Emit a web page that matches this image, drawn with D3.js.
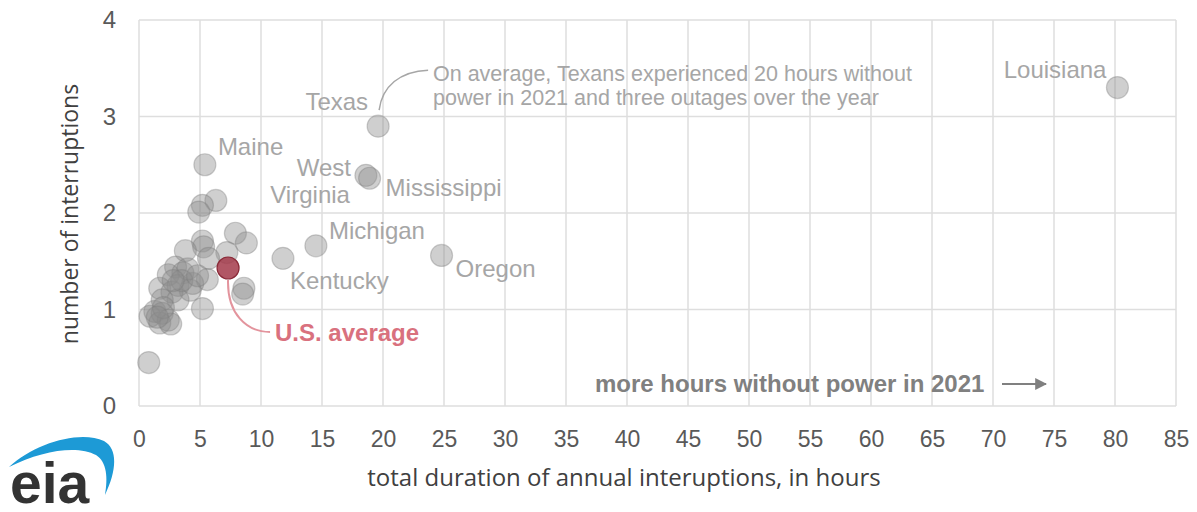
<!DOCTYPE html>
<html>
<head>
<meta charset="utf-8">
<script src="https://d3js.org/d3.v7.min.js"></script>
<style>
  body { margin: 0; background: #fff; }
  svg { display: block; }
</style>
</head>
<body>
<div id="chart"></div>
<script>
// labeled states
var labeledStates = ["Louisiana", "Texas", "West Virginia", "Mississippi", "Michigan", "Kentucky", "Oregon", "Maine"];
var labeledHours = [80.2, 19.6, 18.6, 18.9, 14.5, 11.8, 24.8, 5.4];
var labeledInterruptions = [3.30, 2.90, 2.39, 2.36, 1.66, 1.53, 1.56, 2.50];

// the rest of the states (unlabeled)
var otherHours = [6.3, 5.2, 4.9, 7.9, 8.8, 5.2, 5.3, 7.2, 5.7, 3.8, 8.6, 8.5, 5.2, 5.6, 0.8,
                  3.0, 2.4, 3.6, 4.4, 1.7, 3.2, 4.2, 2.7, 3.2, 1.9, 1.3, 0.9, 1.9, 2.4, 1.7,
                  2.6, 2.0, 4.0, 3.5, 2.8, 4.8, 1.5];
var otherInterruptions = [2.13, 2.08, 2.01, 1.79, 1.69, 1.71, 1.65, 1.59, 1.53, 1.61, 1.22, 1.16, 1.01, 1.31, 0.45,
                          1.44, 1.36, 1.38, 1.27, 1.22, 1.25, 1.20, 1.18, 1.10, 1.10, 0.98, 0.93, 0.96, 0.89, 0.86,
                          0.85, 1.02, 1.42, 1.30, 1.30, 1.35, 0.92];

var usAverage = { name: "U.S. average", hours: 7.3, interruptions: 1.43 };

var xTicks = d3.range(0, 86, 5);
var yTicks = [0, 1, 2, 3, 4];

var W = 1197, H = 512;
var margin = {top: 20, right: 21, bottom: 106, left: 139};

var svg = d3.select("#chart").append("svg")
    .attr("width", W)
    .attr("height", H);

var x = d3.scaleLinear().domain([0, 85]).range([margin.left, W - margin.right]);
var y = d3.scaleLinear().domain([0, 4]).range([H - margin.bottom, margin.top]);

var labelFont = "'Liberation Sans', Arial, sans-serif";
var titleFont = "'Open Sans', 'Noto Sans', sans-serif";

// grid
svg.append("g")
  .selectAll("line")
  .data(xTicks)
  .join("line")
    .attr("x1", d => x(d)).attr("x2", d => x(d))
    .attr("y1", y(0)).attr("y2", y(4))
    .attr("stroke", "#dedede")
    .attr("stroke-width", 1.5);

svg.append("g")
  .selectAll("line")
  .data(yTicks)
  .join("line")
    .attr("x1", x(0)).attr("x2", x(85))
    .attr("y1", d => y(d)).attr("y2", d => y(d))
    .attr("stroke", "#dedede")
    .attr("stroke-width", 1.5);

// axes (labels only)
var xAxis = svg.append("g")
    .attr("transform", "translate(0," + y(0) + ")")
    .call(d3.axisBottom(x).tickValues(xTicks).tickSize(0).tickPadding(25));
xAxis.select(".domain").remove();
xAxis.selectAll("text")
    .attr("font-family", labelFont)
    .attr("font-size", 23)
    .attr("fill", "#595959");

var yAxis = svg.append("g")
    .attr("transform", "translate(" + x(0) + ",0)")
    .call(d3.axisLeft(y).tickValues(yTicks).tickFormat(d3.format("d")).tickSize(0).tickPadding(23));
yAxis.select(".domain").remove();
yAxis.selectAll("text")
    .attr("font-family", labelFont)
    .attr("font-size", 24)
    .attr("fill", "#595959");

// axis titles
svg.append("text")
    .attr("x", 624)
    .attr("y", 486)
    .attr("text-anchor", "middle")
    .attr("font-family", titleFont)
    .attr("font-size", 24)
    .attr("fill", "#404040")
    .text("total duration of annual interuptions, in hours");

svg.append("text")
    .attr("transform", "translate(78,214) rotate(-90)")
    .attr("text-anchor", "middle")
    .attr("font-family", titleFont)
    .attr("font-size", 23)
    .attr("fill", "#404040")
    .text("number of interruptions");

// points
var others = otherHours.map((h, i) => ({hours: h, interruptions: otherInterruptions[i]}));
var labeled = labeledStates.map((n, i) => ({name: n, hours: labeledHours[i], interruptions: labeledInterruptions[i]}));
var r = 11;

svg.append("g")
  .selectAll("circle")
  .data(others.concat(labeled))
  .join("circle")
    .attr("cx", d => x(d.hours))
    .attr("cy", d => y(d.interruptions))
    .attr("r", r)
    .attr("fill", "#8c8c8c")
    .attr("fill-opacity", 0.42)
    .attr("stroke", "#7a7a7a")
    .attr("stroke-opacity", 0.35)
    .attr("stroke-width", 1.2);

// state labels
var labelOffsets = {
  "Louisiana":    {dx: -11, dy: -10, anchor: "end"},
  "Texas":        {dx: -10, dy: -16, anchor: "end"},
  "West Virginia":{dx: -15, dy: 1,  anchor: "end", lines: ["West", "Virginia"]},
  "Mississippi":  {dx: 16,  dy: 18, anchor: "start"},
  "Michigan":     {dx: 13,  dy: -7, anchor: "start"},
  "Kentucky":     {dx: 7,   dy: 31, anchor: "start"},
  "Oregon":       {dx: 14,  dy: 22, anchor: "start"},
  "Maine":        {dx: 13,  dy: -10, anchor: "start"}
};

labeled.forEach(function(d) {
  var o = labelOffsets[d.name];
  var t = svg.append("text")
      .attr("x", x(d.hours) + o.dx)
      .attr("y", y(d.interruptions) + o.dy)
      .attr("text-anchor", o.anchor)
      .attr("font-family", labelFont)
      .attr("font-size", 24)
      .attr("fill", "#a6a6a6");
  var lines = o.lines || [d.name];
  lines.forEach(function(l, i) {
    t.append("tspan")
      .attr("x", x(d.hours) + o.dx + (i > 0 ? -1 : 0))
      .attr("dy", i === 0 ? 0 : 27)
      .text(l);
  });
});

// Texas callout
var tx = x(labeledHours[1]), ty = y(labeledInterruptions[1]);
svg.append("path")
    .attr("d", "M" + (tx + 1) + "," + (ty - 16) + " C" + (tx + 4) + "," + (ty - 40) + " " + (tx + 22) + "," + (ty - 55) + " " + (tx + 50) + "," + (ty - 56))
    .attr("fill", "none")
    .attr("stroke", "#a6a6a6")
    .attr("stroke-width", 1.5);

var note = svg.append("text")
    .attr("font-family", labelFont)
    .attr("font-size", 21.5)
    .attr("fill", "#a6a6a6");
note.append("tspan").attr("x", 433).attr("y", 81).text("On average, Texans experienced 20 hours without");
note.append("tspan").attr("x", 433).attr("y", 105).text("power in 2021 and three outages over the year");

// U.S. average
var ux = x(usAverage.hours), uy = y(usAverage.interruptions);
svg.append("path")
    .attr("d", "M" + ux + "," + (uy + 12) + " C" + (ux - 1) + "," + (uy + 45) + " " + (ux + 18) + "," + (uy + 64) + " " + (ux + 42) + "," + (uy + 64))
    .attr("fill", "none")
    .attr("stroke", "#e3949d")
    .attr("stroke-width", 2);

svg.append("circle")
    .attr("cx", ux)
    .attr("cy", uy)
    .attr("r", r)
    .attr("fill", "#a33a4a")
    .attr("fill-opacity", 0.85)
    .attr("stroke", "#8a2a38")
    .attr("stroke-width", 1.2);

svg.append("text")
    .attr("x", 275)
    .attr("y", 341)
    .attr("font-family", labelFont)
    .attr("font-size", 24)
    .attr("font-weight", "bold")
    .attr("fill", "#d9717e")
    .text(usAverage.name);

// direction note
svg.append("text")
    .attr("x", 595)
    .attr("y", 392)
    .attr("font-family", labelFont)
    .attr("font-size", 24)
    .attr("font-weight", "bold")
    .attr("fill", "#808080")
    .text("more hours without power in 2021");

svg.append("defs").append("marker")
    .attr("id", "arrow")
    .attr("viewBox", "0 0 10 10")
    .attr("refX", 9).attr("refY", 5)
    .attr("markerWidth", 6).attr("markerHeight", 6)
    .attr("orient", "auto")
  .append("path")
    .attr("d", "M0,0 L10,5 L0,10 Z")
    .attr("fill", "#808080");

svg.append("line")
    .attr("x1", 1002).attr("x2", 1046)
    .attr("y1", 384).attr("y2", 384)
    .attr("stroke", "#808080")
    .attr("stroke-width", 2)
    .attr("marker-end", "url(#arrow)");

// eia logo
var logo = svg.append("g");
logo.append("path")
    .attr("d", "M9,467 C35,443 80,430 104,441 C118,449 117,470 105,495 C108,478 107,462 96,455 C78,445 42,450 9,467 Z")
    .attr("fill", "#1d9ad6");
logo.append("text")
    .attr("x", 10)
    .attr("y", 503)
    .attr("font-family", "'Liberation Sans', Arial, sans-serif")
    .attr("font-size", 57)
    .attr("font-weight", "bold")
    .attr("fill", "#333333")
    .text("eia");
</script>
</body>
</html>
